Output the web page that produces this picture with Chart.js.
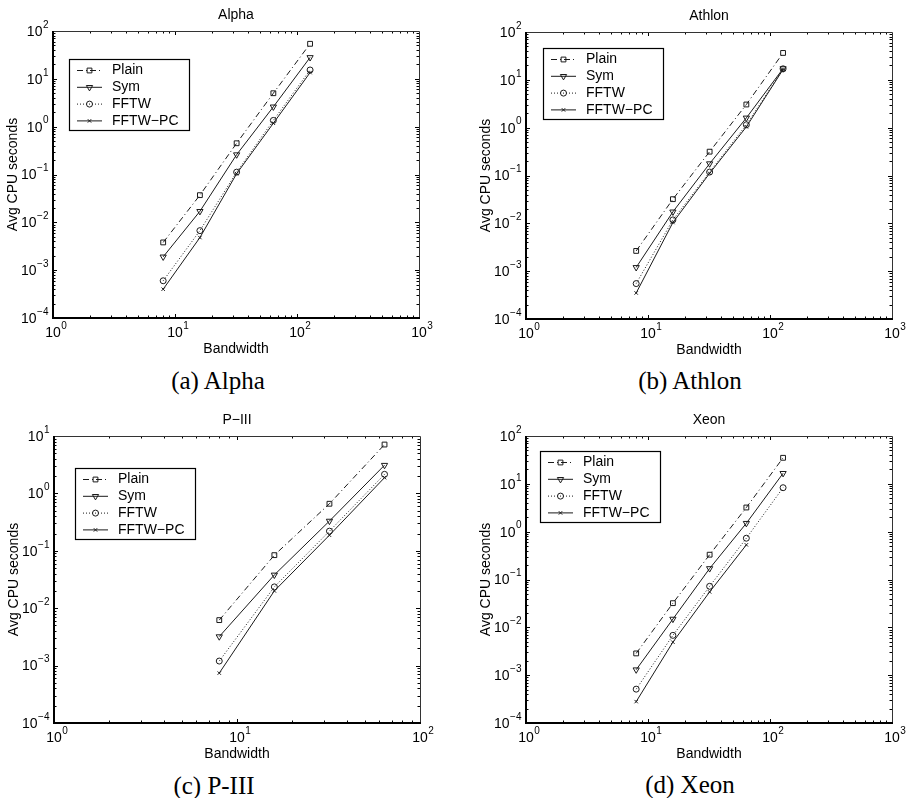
<!DOCTYPE html>
<html><head><meta charset="utf-8">
<script src="https://cdn.jsdelivr.net/npm/chart.js@4.4.1/dist/chart.umd.min.js"></script>
<style>
body{margin:0;background:#fff;width:906px;height:798px;position:relative;overflow:hidden}
canvas{position:absolute}
.cap{position:absolute;font-family:"Liberation Serif","Times New Roman",serif;font-size:25px;line-height:1;transform:translate(-50%,-50%);white-space:nowrap;color:#000}
</style></head><body>
<canvas id="c0" width="453" height="365" style="left:0;top:0"></canvas>
<canvas id="c1" width="453" height="365" style="left:453px;top:0"></canvas>
<canvas id="c2" width="453" height="365" style="left:0;top:399px"></canvas>
<canvas id="c3" width="453" height="365" style="left:453px;top:399px"></canvas>
<div class="cap" style="left:218px;top:380px">(a) Alpha</div>
<div class="cap" style="left:690px;top:380px">(b) Athlon</div>
<div class="cap" style="left:214px;top:785px">(c) P-III</div>
<div class="cap" style="left:690px;top:784px">(d) Xeon</div>
<script>
// ---- data ----
const bandwidth = [8, 16, 32, 64, 128];
const bandwidthPIII = [8, 16, 32, 64];
const seriesNames = ['Plain', 'Sym', 'FFTW', 'FFTW\u2212PC'];
const panelTitles = ['Alpha', 'Athlon', 'P\u2212III', 'Xeon'];
const xAxisTitle = 'Bandwidth';
const yAxisTitle = 'Avg CPU seconds';

const alphaPlain  = [0.0038, 0.037, 0.45, 5.0, 54];
const alphaSym    = [0.0019, 0.017, 0.26, 2.6, 28];
const alphaFFTW   = [0.0006, 0.0067, 0.112, 1.35, 15.3];
const alphaFFTWPC = [0.0004, 0.0048, 0.104, 1.18, 13.5];

const athlonPlain  = [0.00265, 0.032, 0.315, 3.05, 36.5];
const athlonSym    = [0.0012, 0.0174, 0.177, 1.6, 17.2];
const athlonFFTW   = [0.00055, 0.0118, 0.118, 1.15, 17];
const athlonFFTWPC = [0.00035, 0.0104, 0.111, 1.04, 16.5];

const piiiPlain  = [0.0062, 0.084, 0.66, 7.1];
const piiiSym    = [0.0032, 0.038, 0.33, 3.1];
const piiiFFTW   = [0.0012, 0.0235, 0.22, 2.15];
const piiiFFTWPC = [0.00074, 0.020, 0.187, 1.88];

const xeonPlain  = [0.00285, 0.032, 0.33, 3.2, 35];
const xeonSym    = [0.0013, 0.0149, 0.17, 1.5, 16.6];
const xeonFFTW   = [0.00051, 0.0068, 0.072, 0.73, 8.3];
const xeonFFTWPC = [0.00028, 0.0049, 0.055, 0.53];

const xTickExpWide = [0, 1, 2, 3];
const xTickExpPIII = [0, 1, 2];
const yTickExpWide = [-4, -3, -2, -1, 0, 1, 2];
const yTickExpPIII = [-4, -3, -2, -1, 0, 1];

// ---- styles ----
const INK = '#1a1a1a';
const styles = [
  {dash: [6, 3, 1, 3], point: 'rect', radius: 3.4, rot: 0},
  {dash: [], point: 'triangle', radius: 3.6, rot: 180},
  {dash: [1, 2], point: 'circle', radius: 3, rot: 0},
  {dash: [], point: 'crossRot', radius: 2.4, rot: 0}
];
const SANS = '"Liberation Sans", Arial, Helvetica, sans-serif';

function pts(xs, ys) { return ys.map((v, i) => ({x: xs[i], y: v})); }

const panels = [
  {id: 'c0', title: panelTitles[0], series: [alphaPlain, alphaSym, alphaFFTW, alphaFFTWPC], xs: bandwidth,
   xTicks: xTickExpWide, yTicks: yTickExpWide, pad: {left: 53, right: 34, top: 31, bottom: 47}, legend: [69, 59]},
  {id: 'c1', title: panelTitles[1], series: [athlonPlain, athlonSym, athlonFFTW, athlonFFTWPC], xs: bandwidth,
   xTicks: xTickExpWide, yTicks: yTickExpWide, pad: {left: 73, right: 14, top: 32, bottom: 46}, legend: [90, 48]},
  {id: 'c2', title: panelTitles[2], series: [piiiPlain, piiiSym, piiiFFTW, piiiFFTWPC], xs: bandwidthPIII,
   xTicks: xTickExpPIII, yTicks: yTickExpPIII, pad: {left: 54, right: 33, top: 37, bottom: 41}, legend: [75, 69]},
  {id: 'c3', title: panelTitles[3], series: [xeonPlain, xeonSym, xeonFFTW, xeonFFTWPC], xs: bandwidth,
   xTicks: xTickExpWide, yTicks: yTickExpWide, pad: {left: 73, right: 14, top: 37, bottom: 41}, legend: [87, 52]}
];

function expStr(e) { return e < 0 ? '\u2212' + (-e) : String(e); }

function drawMarker(ctx, st, x, y) {
  ctx.save();
  ctx.setLineDash([]);
  ctx.strokeStyle = INK; ctx.lineWidth = 1;
  ctx.beginPath();
  const r = st.radius;
  if (st.point === 'rect') { const s = r * Math.SQRT1_2; ctx.rect(x - s, y - s, 2 * s, 2 * s); }
  else if (st.point === 'triangle') { ctx.moveTo(x - r * 0.87, y - r * 0.5); ctx.lineTo(x + r * 0.87, y - r * 0.5); ctx.lineTo(x, y + r); ctx.closePath(); }
  else if (st.point === 'circle') { ctx.arc(x, y, r, 0, Math.PI * 2); }
  else { const s = r * Math.SQRT1_2 * 1.0; ctx.moveTo(x - s, y - s); ctx.lineTo(x + s, y + s); ctx.moveTo(x + s, y - s); ctx.lineTo(x - s, y + s); }
  ctx.stroke();
  ctx.restore();
}

const decor = {
  id: 'decor',
  afterDraw(chart, args, opts) {
    const p = opts.panel;
    const ctx = chart.ctx, a = chart.chartArea;
    const xs = chart.scales.x, ys = chart.scales.y;
    ctx.save();
    ctx.strokeStyle = '#000'; ctx.fillStyle = '#000';
    // minor/major ticks
    ctx.lineWidth = 1;
    const xmin = p.xTicks[0], xmax = p.xTicks[p.xTicks.length - 1];
    for (let k = xmin; k < xmax; k++) for (let m = 1; m <= 9; m++) {
      const px = Math.round(xs.getPixelForValue(m * Math.pow(10, k))) + 0.5;
      const L = m === 1 ? 4 : 2.5;
      ctx.beginPath(); ctx.moveTo(px, a.bottom); ctx.lineTo(px, a.bottom - L);
      ctx.moveTo(px, a.top); ctx.lineTo(px, a.top + L); ctx.stroke();
    }
    const ymin = p.yTicks[0], ymax = p.yTicks[p.yTicks.length - 1];
    for (let k = ymin; k < ymax; k++) for (let m = 1; m <= 9; m++) {
      const py = Math.round(ys.getPixelForValue(m * Math.pow(10, k))) + 0.5;
      const L = m === 1 ? 4 : 2.5;
      ctx.beginPath(); ctx.moveTo(a.left, py); ctx.lineTo(a.left + L, py);
      ctx.moveTo(a.right, py); ctx.lineTo(a.right - L, py); ctx.stroke();
    }
    // frame
    ctx.lineWidth = 1;
    ctx.strokeStyle = '#333';
    ctx.beginPath(); ctx.moveTo(a.left, a.top + 0.5); ctx.lineTo(a.right + 0.5, a.top + 0.5); ctx.lineTo(a.right + 0.5, a.bottom); ctx.stroke();
    ctx.strokeStyle = '#000'; ctx.lineWidth = 2;
    ctx.beginPath(); ctx.moveTo(a.left, a.top); ctx.lineTo(a.left, a.bottom); ctx.lineTo(a.right + 1, a.bottom); ctx.stroke();

    // tick labels
    const big = '14px ' + SANS, small = '10px ' + SANS;
    ctx.textBaseline = 'middle';
    p.yTicks.forEach(e => {
      const py = ys.getPixelForValue(Math.pow(10, e));
      ctx.font = small; const es = expStr(e); const we = ctx.measureText(es).width;
      ctx.font = big; const wb = ctx.measureText('10').width;
      const x0 = a.left - 5 - we - wb;
      ctx.textAlign = 'left';
      ctx.fillText('10', x0, py + 1);
      ctx.font = small; ctx.fillText(es, x0 + wb + 0.5, py - 6);
    });
    p.xTicks.forEach(e => {
      const px = xs.getPixelForValue(Math.pow(10, e));
      ctx.font = big; const wb = ctx.measureText('10').width;
      ctx.textAlign = 'center';
      ctx.fillText('10', px, a.bottom + 15);
      ctx.font = small; ctx.textAlign = 'left';
      ctx.fillText(expStr(e), px + wb / 2 + 0.5, a.bottom + 8);
    });
    // titles
    ctx.font = big; ctx.textAlign = 'center';
    ctx.fillText(p.title, (a.left + a.right) / 2, a.top - 16);
    ctx.fillText(xAxisTitle, (a.left + a.right) / 2, a.bottom + 31);
    ctx.save();
    ctx.translate(a.left - 40, (a.top + a.bottom) / 2);
    ctx.rotate(-Math.PI / 2);
    ctx.fillText(yAxisTitle, 0, 0);
    ctx.restore();

    // legend
    const [lx, ly] = p.legend;
    ctx.fillStyle = '#fff';
    ctx.fillRect(lx, ly, 120, 71);
    ctx.strokeStyle = '#000'; ctx.lineWidth = 1.2;
    ctx.strokeRect(lx + 0.5, ly + 0.5, 120, 71);
    ctx.fillStyle = '#000';
    seriesNames.forEach((name, i) => {
      const st = styles[i];
      const yy = ly + 11 + 16.8 * i;
      ctx.save();
      ctx.strokeStyle = INK; ctx.lineWidth = 1; ctx.setLineDash(st.dash);
      ctx.beginPath(); ctx.moveTo(lx + 8, yy + 0.5); ctx.lineTo(lx + 33, yy + 0.5); ctx.stroke();
      ctx.restore();
      drawMarker(ctx, st, lx + 20.5, yy + 0.5);
      ctx.font = big; ctx.textAlign = 'left'; ctx.textBaseline = 'middle';
      ctx.fillText(name, lx + 43, yy + 0.5);
    });
    ctx.restore();
  }
};

panels.forEach(p => {
  const datasets = p.series.map((ys, i) => ({
    label: seriesNames[i],
    data: pts(p.xs, ys),
    borderColor: INK,
    borderWidth: 1,
    borderDash: styles[i].dash,
    pointStyle: styles[i].point,
    pointRadius: styles[i].radius,
    pointRotation: styles[i].rot,
    pointBorderColor: INK,
    pointBorderWidth: 1,
    pointBackgroundColor: 'rgba(0,0,0,0)',
    fill: false,
    tension: 0
  }));
  const xMax = Math.pow(10, p.xTicks[p.xTicks.length - 1]);
  const yMin = Math.pow(10, p.yTicks[0]);
  const yMax = Math.pow(10, p.yTicks[p.yTicks.length - 1]);
  new Chart(document.getElementById(p.id), {
    type: 'line',
    data: {datasets},
    options: {
      responsive: false,
      animation: false,
      layout: {padding: p.pad},
      plugins: {legend: {display: false}, title: {display: false}, tooltip: {enabled: false}, decor: {panel: p}},
      scales: {
        x: {type: 'logarithmic', min: 1, max: xMax, display: false},
        y: {type: 'logarithmic', min: yMin, max: yMax, display: false}
      }
    },
    plugins: [decor]
  });
});
</script>
</body></html>
